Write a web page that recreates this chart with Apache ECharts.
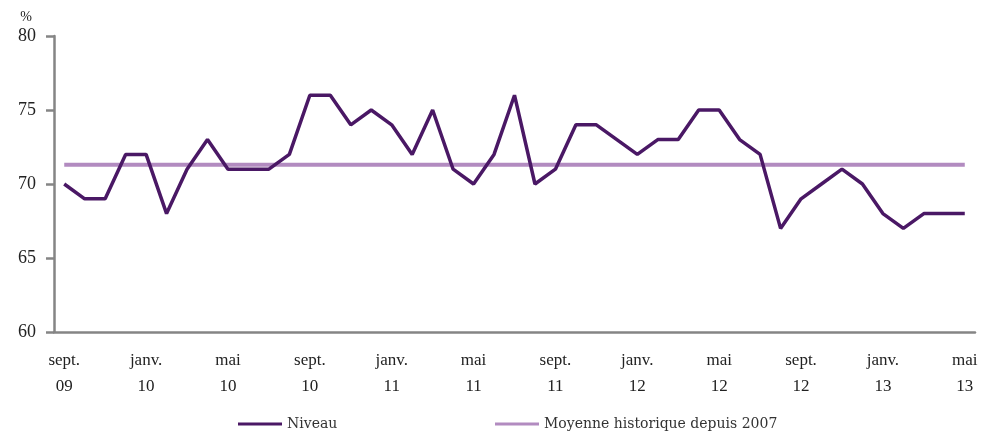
<!DOCTYPE html>
<html>
<head>
<meta charset="utf-8">
<script src="https://cdn.jsdelivr.net/npm/echarts@6/dist/echarts.min.js"></script>
<style>
  html, body { margin: 0; padding: 0; background: #fff; }
  #chart { width: 984px; height: 434px; }
</style>
</head>
<body>
<div id="chart"></div>
<script>
// mois de sept. 2009 a mai 2013
var mois = ['sept.\n09', 'oct.\n09', 'nov.\n09', 'déc.\n09',
    'janv.\n10', 'févr.\n10', 'mars\n10', 'avr.\n10', 'mai\n10', 'juin\n10', 'juil.\n10', 'août\n10',
    'sept.\n10', 'oct.\n10', 'nov.\n10', 'déc.\n10',
    'janv.\n11', 'févr.\n11', 'mars\n11', 'avr.\n11', 'mai\n11', 'juin\n11', 'juil.\n11', 'août\n11',
    'sept.\n11', 'oct.\n11', 'nov.\n11', 'déc.\n11',
    'janv.\n12', 'févr.\n12', 'mars\n12', 'avr.\n12', 'mai\n12', 'juin\n12', 'juil.\n12', 'août\n12',
    'sept.\n12', 'oct.\n12', 'nov.\n12', 'déc.\n12',
    'janv.\n13', 'févr.\n13', 'mars\n13', 'avr.\n13', 'mai\n13']

var niveau = [70, 69, 69, 72,
    72, 68, 71, 73, 71, 71, 71, 72,
    76, 76, 74, 75,
    74, 72, 75, 71, 70, 72, 76, 70,
    71, 74, 74, 73,
    72, 73, 73, 75, 75, 73, 72, 67,
    69, 70, 71, 70,
    68, 67, 68, 68, 68]

var moyenne = 71.3   // moyenne historique depuis 2007

var yTicks = [60, 65, 70, 75, 80]

var police = '"Liberation Serif", "DejaVu Serif", serif'
var policeLegende = '"DejaVu Serif", serif'

var myChart = echarts.init(document.getElementById('chart'))

myChart.setOption({
    animation: false,
    backgroundColor: '#fff',
    textStyle: { fontFamily: police },
    grid: { left: 54, right: 9, top: 36, bottom: 102 },
    legend: [
        {
            data: ['Niveau'],
            left: 233, top: 412,
            itemWidth: 44, itemHeight: 3, icon: 'rect', itemGap: 4,
            textStyle: { fontFamily: policeLegende, fontSize: 14, color: '#333' }
        },
        {
            data: ['Moyenne historique depuis 2007'],
            left: 490, top: 412,
            itemWidth: 44, itemHeight: 3, icon: 'rect', itemGap: 4,
            textStyle: { fontFamily: policeLegende, fontSize: 14, color: '#333' }
        }
    ],
    xAxis: {
        type: 'category',
        data: mois,
        boundaryGap: true,
        axisLine: { lineStyle: { color: '#858585', width: 2.5 } },
        axisTick: { show: false },
        axisLabel: {
            interval: 3,
            margin: 16,
            color: '#222',
            fontFamily: police,
            fontSize: 17,
            lineHeight: 26
        }
    },
    yAxis: {
        type: 'value',
        min: yTicks[0],
        max: yTicks[yTicks.length - 1],
        interval: 5,
        name: '%',
        nameLocation: 'end',
        nameGap: 12,
        nameTextStyle: { color: '#222', fontFamily: police, fontSize: 14, align: 'right', padding: [0, 22, 0, 0] },
        axisLine: { show: true, lineStyle: { color: '#858585', width: 2.5 } },
        axisTick: { show: true, inside: false, length: 8, lineStyle: { color: '#858585', width: 2.5 } },
        splitLine: { show: false },
        axisLabel: { margin: 18, color: '#222', fontFamily: police, fontSize: 18 }
    },
    series: [
        {
            name: 'Niveau',
            type: 'line',
            data: niveau,
            symbol: 'none',
            color: '#4a1865',
            lineStyle: { color: '#4a1865', width: 3.5 },
            z: 3
        },
        {
            name: 'Moyenne historique depuis 2007',
            type: 'line',
            data: mois.map(function () { return moyenne }),
            symbol: 'none',
            color: '#b28bc0',
            lineStyle: { color: '#b28bc0', width: 4 },
            z: 2
        }
    ]
})
</script>
</body>
</html>
